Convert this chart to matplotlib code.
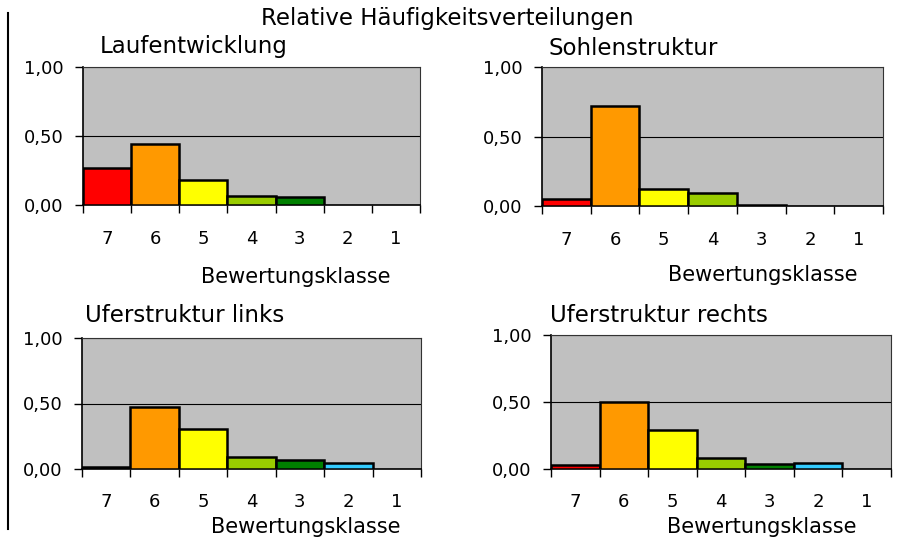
import numpy as np
import matplotlib
matplotlib.use("Agg")
from matplotlib import pyplot as plt
from matplotlib.lines import Line2D

plt.rcParams['font.family'] = ['DejaVu Sans']

classes = ["7", "6", "5", "4", "3", "2", "1"]
class_colors = ["#FF0000", "#FF9900", "#FFFF00", "#99CC00", "#008000", "#33CCFF", "#0000FF"]

laufentwicklung = [0.27, 0.44, 0.18, 0.065, 0.055, 0.0, 0.0]
sohlenstruktur = [0.05, 0.72, 0.12, 0.09, 0.01, 0.0, 0.0]
ufer_links = [0.015, 0.47, 0.305, 0.09, 0.065, 0.045, 0.0]
ufer_rechts = [0.03, 0.50, 0.29, 0.085, 0.04, 0.045, 0.0]

y_ticks = [0.0, 0.5, 1.0]
y_tick_labels = ["0,00", "0,50", "1,00"]

W, H = 899, 549
fig = plt.figure(figsize=(W / 100, H / 100), dpi=100)


def px_rect(left, right, top, bottom):
    return [left / W, 1 - bottom / H, (right - left) / W, (bottom - top) / H]


def drawPanel(rect, values, title, title_xy, label_xy, tick_pad):
    ax = fig.add_axes(px_rect(*rect))
    x = np.arange(len(classes))
    widths = [1.8 if v > 0 else 0 for v in values]
    ax.bar(x, values, width=1.0, color=class_colors, edgecolor="black",
           linewidth=widths, zorder=3)
    ax.set_facecolor("#C0C0C0")
    ax.set_xlim(-0.5, len(classes) - 0.5)
    ax.set_ylim(0, 1)

    ax.set_yticks(y_ticks)
    ax.set_yticklabels(y_tick_labels, fontsize=13)
    ax.tick_params(axis="y", direction="out", length=6, width=1, pad=8)
    ax.yaxis.grid(True, color="black", linewidth=0.8, zorder=1)

    ax.set_xticks(np.arange(len(classes) + 1) - 0.5)
    ax.set_xticklabels([])
    ax.set_xticks(x, minor=True)
    ax.set_xticklabels(classes, minor=True, fontsize=13)
    ax.tick_params(axis="x", which="major", direction="out", length=6, width=1)
    ax.tick_params(axis="x", which="minor", length=0, pad=tick_pad)

    for side in ["top", "right"]:
        ax.spines[side].set_color("#333333")
        ax.spines[side].set_linewidth(0.8)
    for side in ["left", "bottom"]:
        ax.spines[side].set_color("black")
        ax.spines[side].set_linewidth(1.2)
    ax.set_axisbelow(True)

    fig.text(title_xy[0] / W, 1 - title_xy[1] / H, title, fontsize=16.5,
             ha="left", va="baseline")
    fig.text(label_xy[0] / W, 1 - label_xy[1] / H, "Bewertungsklasse",
             fontsize=15, ha="center", va="center")
    return ax


drawPanel((83, 420, 67, 205), laufentwicklung, "Laufentwicklung", (100, 53), (296, 277), 18)
drawPanel((542, 883, 67, 206), sohlenstruktur, "Sohlenstruktur", (548, 55), (763, 275), 18)
drawPanel((82, 421, 338, 469), ufer_links, "Uferstruktur links", (85, 322), (306, 527), 17)
drawPanel((551, 891, 335, 469), ufer_rechts, "Uferstruktur rechts", (550, 322), (762, 527), 17)

fig.text(447 / W, 1 - 25 / H, "Relative Häufigkeitsverteilungen", fontsize=16.5,
         ha="center", va="baseline")

fig.add_artist(Line2D([8 / W, 8 / W], [1 - 13 / H, 1 - 529 / H], color="black",
                      linewidth=1.5))

fig.savefig("out.png", dpi=100)
